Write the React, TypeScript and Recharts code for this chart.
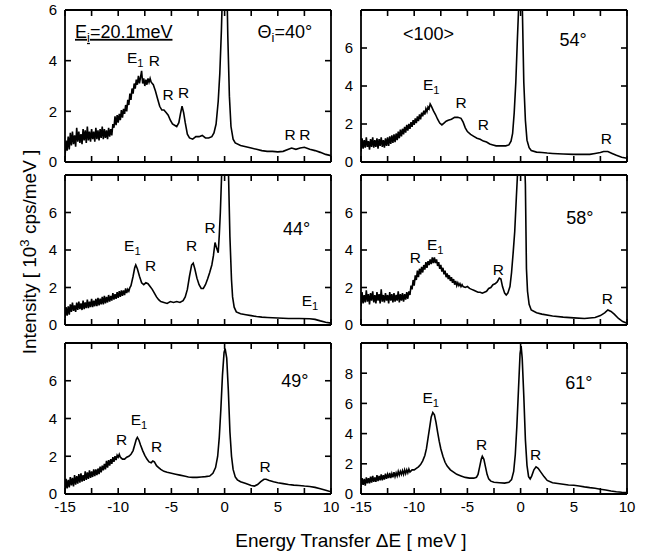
import React from 'react';
import { LineChart, Line, XAxis, YAxis, ReferenceDot } from 'recharts';

type Pt = [number, number];

const FONT = "'Liberation Sans', Arial, Helvetica, sans-serif";

// Energy transfer (meV) vs intensity (10^3 cps/meV)
const spectrum40: Pt[] = [
  [-15, 0.2], [-14.9, 0.85], [-14.8, 0.45], [-14.7, 1.0], [-14.6, 0.5], [-14.5, 1.15], [-14.4, 0.65], [-14.3, 1.2],
  [-14.2, 0.7], [-14.1, 1.05], [-14, 0.6], [-13.9, 1.35], [-13.8, 0.8], [-13.7, 1.2], [-13.6, 0.75], [-13.5, 1.1],
  [-13.4, 0.7], [-13.3, 1.3], [-13.2, 0.85], [-13.1, 1.25], [-13, 0.75], [-12.9, 1.4], [-12.8, 0.85], [-12.7, 1.2],
  [-12.6, 0.8], [-12.5, 1.3], [-12.4, 0.9], [-12.3, 1.2], [-12.2, 0.8], [-12.1, 1.35], [-12, 0.9], [-11.9, 1.25],
  [-11.8, 0.85], [-11.7, 1.3], [-11.6, 0.95], [-11.5, 1.4], [-11.4, 0.9], [-11.3, 1.3], [-11.2, 0.95], [-11.1, 1.25],
  [-11, 0.9], [-10.9, 1.35], [-10.8, 1.0], [-10.7, 1.3], [-10.6, 1.05], [-10.5, 1.5], [-10.4, 1.35], [-10.3, 1.8],
  [-10.2, 1.45], [-10.1, 1.85], [-10, 1.55], [-9.9, 1.9], [-9.8, 1.65], [-9.7, 2.05], [-9.6, 1.75], [-9.5, 2.1],
  [-9.4, 1.9], [-9.3, 2.25], [-9.2, 2.0], [-9.1, 2.45], [-9, 2.25], [-8.9, 2.7], [-8.8, 2.45], [-8.7, 2.9],
  [-8.6, 2.7], [-8.5, 3.1], [-8.4, 2.9], [-8.3, 3.25], [-8.2, 3.05], [-8.1, 3.4], [-8, 3.1], [-7.9, 3.35],
  [-7.8, 3.6], [-7.7, 3.1], [-7.6, 3.3], [-7.5, 3.0], [-7.4, 3.25], [-7.3, 3.05], [-7.2, 3.3], [-7.1, 3.15],
  [-7, 3.3], [-6.9, 3.15], [-6.7, 3.05], [-6.5, 2.8], [-6.3, 2.5], [-6.1, 2.2], [-5.9, 2.05], [-5.7, 2.05],
  [-5.5, 1.95], [-5.3, 1.85], [-5.1, 1.65], [-4.9, 1.5], [-4.7, 1.45], [-4.5, 1.4], [-4.3, 1.55], [-4.15, 1.9],
  [-4, 2.2], [-3.85, 1.95], [-3.7, 1.55], [-3.5, 1.1], [-3.3, 0.95], [-3, 0.9], [-2.7, 1.0], [-2.4, 1.0],
  [-2.1, 1.05], [-1.8, 0.95], [-1.5, 0.95], [-1.2, 1.0], [-1, 1.15], [-0.8, 1.5], [-0.6, 2.4], [-0.45, 3.5],
  [-0.3, 5.2], [-0.15, 7.5], [0, 9], [0.15, 8.5], [0.3, 5], [0.45, 2.6], [0.6, 1.4], [0.8, 0.9], [1, 0.75],
  [1.5, 0.65], [2, 0.6], [2.5, 0.55], [3, 0.5], [3.5, 0.45], [4, 0.42], [4.5, 0.42], [5, 0.4], [5.5, 0.42],
  [6, 0.5], [6.3, 0.55], [6.7, 0.5], [7.1, 0.55], [7.5, 0.58], [8, 0.5], [8.5, 0.45], [9, 0.38], [9.5, 0.3],
  [10, 0.25],
];

const spectrum54: Pt[] = [
  [-15, 0.55], [-14.9, 1.25], [-14.8, 0.7], [-14.7, 1.15], [-14.6, 0.75], [-14.5, 1.3], [-14.4, 0.8], [-14.3, 1.1],
  [-14.2, 0.65], [-14.1, 1.2], [-14, 0.8], [-13.9, 1.3], [-13.8, 0.75], [-13.7, 1.15], [-13.6, 0.8], [-13.5, 1.25],
  [-13.4, 0.7], [-13.3, 1.2], [-13.2, 0.85], [-13.1, 1.3], [-13, 0.8], [-12.9, 1.15], [-12.8, 0.75], [-12.7, 1.25],
  [-12.6, 0.85], [-12.5, 1.3], [-12.4, 0.85], [-12.3, 1.35], [-12.2, 0.95], [-12.1, 1.4], [-12, 1.0], [-11.9, 1.45],
  [-11.8, 1.05], [-11.7, 1.5], [-11.6, 1.15], [-11.5, 1.6], [-11.4, 1.25], [-11.3, 1.7], [-11.2, 1.35], [-11.1, 1.75],
  [-11, 1.45], [-10.9, 1.85], [-10.8, 1.55], [-10.7, 1.95], [-10.6, 1.65], [-10.5, 2.0], [-10.4, 1.75], [-10.3, 2.1],
  [-10.2, 1.85], [-10.1, 2.2], [-10, 1.95], [-9.9, 2.3], [-9.8, 2.05], [-9.7, 2.4], [-9.6, 2.15], [-9.5, 2.5],
  [-9.4, 2.25], [-9.3, 2.6], [-9.2, 2.4], [-9.1, 2.7], [-9, 2.5], [-8.9, 2.8], [-8.8, 2.65], [-8.7, 2.9],
  [-8.6, 2.8], [-8.5, 3.05], [-8.4, 2.95], [-8.2, 2.7], [-8, 2.5], [-7.8, 2.25], [-7.6, 2.05], [-7.4, 1.95],
  [-7.2, 2.05], [-7, 2.15], [-6.8, 2.2], [-6.5, 2.25], [-6.2, 2.35], [-5.9, 2.35], [-5.6, 2.3], [-5.4, 2.1],
  [-5.2, 1.8], [-5, 1.6], [-4.7, 1.45], [-4.4, 1.35], [-4.1, 1.25], [-3.8, 1.2], [-3.5, 1.1], [-3.2, 1.05],
  [-2.9, 0.95], [-2.6, 0.9], [-2.3, 0.85], [-2, 0.85], [-1.7, 0.85], [-1.4, 0.85], [-1.1, 0.9], [-0.9, 1.1],
  [-0.75, 1.5], [-0.6, 2.6], [-0.45, 4.2], [-0.3, 6.5], [-0.15, 8.6], [0, 9.5], [0.15, 8.5], [0.3, 4.2],
  [0.45, 2.2], [0.6, 1.15], [0.8, 0.75], [1, 0.6], [1.5, 0.52], [2, 0.5], [2.5, 0.47], [3, 0.45], [4, 0.42],
  [5, 0.4], [6, 0.4], [6.5, 0.4], [7, 0.45], [7.5, 0.5], [7.8, 0.55], [8.2, 0.55], [8.6, 0.45], [9, 0.35],
  [9.5, 0.25], [10, 0.2],
];

const spectrum44: Pt[] = [
  [-15, 0.35], [-14.9, 0.95], [-14.8, 0.5], [-14.7, 1.0], [-14.6, 0.55], [-14.5, 1.1], [-14.4, 0.7], [-14.3, 1.2],
  [-14.2, 0.75], [-14.1, 1.05], [-14, 0.7], [-13.9, 1.2], [-13.8, 0.8], [-13.7, 1.25], [-13.6, 0.85], [-13.5, 1.15],
  [-13.4, 0.8], [-13.3, 1.3], [-13.2, 0.85], [-13.1, 1.2], [-13, 0.9], [-12.9, 1.35], [-12.8, 0.9], [-12.7, 1.25],
  [-12.6, 0.95], [-12.5, 1.4], [-12.4, 0.95], [-12.3, 1.3], [-12.2, 1.0], [-12.1, 1.4], [-12, 1.0], [-11.9, 1.45],
  [-11.8, 1.05], [-11.7, 1.4], [-11.6, 1.1], [-11.5, 1.5], [-11.4, 1.1], [-11.3, 1.55], [-11.2, 1.15], [-11.1, 1.5],
  [-11, 1.2], [-10.9, 1.6], [-10.8, 1.25], [-10.7, 1.55], [-10.6, 1.3], [-10.5, 1.7], [-10.4, 1.35], [-10.3, 1.65],
  [-10.2, 1.4], [-10.1, 1.75], [-10, 1.45], [-9.9, 1.8], [-9.8, 1.5], [-9.7, 1.85], [-9.6, 1.55], [-9.5, 1.85],
  [-9.4, 1.6], [-9.3, 1.95], [-9.2, 1.7], [-9.1, 1.9], [-9, 1.8], [-8.9, 2.0], [-8.8, 2.1], [-8.6, 2.6],
  [-8.45, 3.05], [-8.35, 3.2], [-8.2, 3.0], [-8, 2.6], [-7.8, 2.25], [-7.6, 2.15], [-7.4, 2.25], [-7.2, 2.2],
  [-7, 2.05], [-6.8, 1.9], [-6.6, 1.7], [-6.4, 1.5], [-6.2, 1.35], [-6, 1.25], [-5.7, 1.2], [-5.4, 1.15],
  [-5.1, 1.25], [-4.8, 1.2], [-4.5, 1.25], [-4.2, 1.2], [-3.9, 1.3], [-3.7, 1.5], [-3.5, 1.9], [-3.3, 2.6],
  [-3.1, 3.2], [-2.95, 3.3], [-2.8, 3.0], [-2.6, 2.5], [-2.4, 2.15], [-2.2, 1.95], [-2, 1.95], [-1.8, 2.15],
  [-1.6, 2.45], [-1.4, 2.8], [-1.2, 3.2], [-1.05, 3.7], [-0.9, 4.4], [-0.75, 4.1], [-0.6, 3.85], [-0.5, 4.8],
  [-0.4, 6.0], [-0.25, 8.5], [0, 10], [0.2, 10], [0.35, 8.5], [0.5, 4.7], [0.65, 2.4], [0.75, 1.5], [0.9, 0.95],
  [1.1, 0.7], [1.5, 0.6], [2, 0.55], [2.5, 0.5], [3, 0.45], [3.5, 0.42], [4, 0.4], [5, 0.37], [6, 0.35],
  [7, 0.35], [8, 0.33], [8.5, 0.3], [9, 0.22], [9.5, 0.15], [10, 0.1],
];

const spectrum58: Pt[] = [
  [-15, 1.0], [-14.9, 1.75], [-14.8, 1.15], [-14.7, 1.6], [-14.6, 1.2], [-14.5, 1.85], [-14.4, 1.25], [-14.3, 1.65],
  [-14.2, 1.1], [-14.1, 1.7], [-14, 1.3], [-13.9, 1.8], [-13.8, 1.2], [-13.7, 1.6], [-13.6, 1.15], [-13.5, 1.75],
  [-13.4, 1.3], [-13.3, 1.65], [-13.2, 1.15], [-13.1, 1.9], [-13, 1.25], [-12.9, 1.6], [-12.8, 1.2], [-12.7, 1.7],
  [-12.6, 1.3], [-12.5, 1.6], [-12.4, 1.15], [-12.3, 1.75], [-12.2, 1.3], [-12.1, 1.65], [-12, 1.2], [-11.9, 1.7],
  [-11.8, 1.25], [-11.7, 1.6], [-11.6, 1.3], [-11.5, 1.8], [-11.4, 1.2], [-11.3, 1.65], [-11.2, 1.3], [-11.1, 1.7],
  [-11, 1.25], [-10.9, 1.65], [-10.8, 1.35], [-10.7, 1.75], [-10.6, 1.4], [-10.5, 1.8], [-10.4, 1.6], [-10.3, 2.1],
  [-10.2, 1.9], [-10.1, 2.4], [-10, 2.1], [-9.9, 2.65], [-9.8, 2.4], [-9.7, 2.9], [-9.6, 2.55], [-9.5, 3.0],
  [-9.4, 2.7], [-9.3, 3.1], [-9.2, 2.8], [-9.1, 3.2], [-9, 2.95], [-8.9, 3.35], [-8.8, 3.05], [-8.7, 3.4],
  [-8.6, 3.2], [-8.5, 3.5], [-8.4, 3.25], [-8.3, 3.6], [-8.2, 3.3], [-8.1, 3.6], [-8, 3.3], [-7.9, 3.5],
  [-7.8, 3.15], [-7.7, 3.35], [-7.6, 3.0], [-7.5, 3.2], [-7.4, 2.85], [-7.3, 3.05], [-7.2, 2.7], [-7.1, 2.9],
  [-7, 2.55], [-6.9, 2.75], [-6.8, 2.45], [-6.7, 2.65], [-6.6, 2.35], [-6.5, 2.55], [-6.4, 2.25], [-6.3, 2.45],
  [-6.2, 2.15], [-6.1, 2.35], [-6, 2.1], [-5.9, 2.25], [-5.8, 2.1], [-5.7, 2.2], [-5.6, 2.05], [-5.5, 2.15],
  [-5.4, 2.05], [-5.2, 2.0], [-5, 2.05], [-4.8, 1.95], [-4.6, 1.9], [-4.4, 1.85], [-4.2, 1.8], [-4, 1.75],
  [-3.8, 1.75], [-3.6, 1.7], [-3.4, 1.75], [-3.2, 1.8], [-3, 1.95], [-2.8, 2.0], [-2.6, 2.15], [-2.4, 2.2],
  [-2.2, 2.3], [-2, 2.5], [-1.85, 2.45], [-1.7, 2.05], [-1.5, 1.7], [-1.35, 1.6], [-1.2, 1.7], [-1, 2.05],
  [-0.85, 2.8], [-0.7, 3.85], [-0.55, 5.0], [-0.4, 6.8], [-0.25, 8.5], [0, 10], [0.3, 10], [0.45, 7.5],
  [0.55, 3.0], [0.65, 1.8], [0.8, 1.1], [1, 0.8], [1.5, 0.65], [2, 0.58], [3, 0.48], [4, 0.42], [5, 0.38],
  [6, 0.35], [7, 0.4], [7.5, 0.5], [7.9, 0.65], [8.2, 0.8], [8.5, 0.72], [8.8, 0.58], [9.2, 0.35], [9.6, 0.18],
  [10, 0.1],
];

const spectrum49: Pt[] = [
  [-15, 0.15], [-14.9, 0.8], [-14.8, 0.3], [-14.7, 0.75], [-14.6, 0.35], [-14.5, 0.9], [-14.4, 0.45], [-14.3, 0.85],
  [-14.2, 0.4], [-14.1, 1.0], [-14, 0.5], [-13.9, 0.95], [-13.8, 0.55], [-13.7, 1.05], [-13.6, 0.6], [-13.5, 1.1],
  [-13.4, 0.65], [-13.3, 1.0], [-13.2, 0.7], [-13.1, 1.2], [-13, 0.75], [-12.9, 1.15], [-12.8, 0.8], [-12.7, 1.25],
  [-12.6, 0.85], [-12.5, 1.2], [-12.4, 0.9], [-12.3, 1.3], [-12.2, 0.95], [-12.1, 1.3], [-12, 1.0], [-11.9, 1.35],
  [-11.8, 1.05], [-11.7, 1.45], [-11.6, 1.15], [-11.5, 1.5], [-11.4, 1.25], [-11.3, 1.6], [-11.2, 1.3], [-11.1, 1.75],
  [-11, 1.4], [-10.9, 1.8], [-10.8, 1.5], [-10.7, 1.85], [-10.6, 1.6], [-10.5, 1.95], [-10.4, 1.7], [-10.3, 2.0],
  [-10.2, 1.8], [-10.1, 2.05], [-10, 1.95], [-9.9, 2.1], [-9.8, 1.95], [-9.6, 1.85], [-9.4, 1.85], [-9.2, 1.95],
  [-9, 2.0], [-8.8, 2.1], [-8.6, 2.3], [-8.45, 2.6], [-8.3, 2.9], [-8.2, 3.0], [-8.05, 2.85], [-7.9, 2.6],
  [-7.7, 2.3], [-7.5, 2.05], [-7.3, 1.85], [-7.1, 1.7], [-6.9, 1.65], [-6.75, 1.75], [-6.6, 1.7], [-6.4, 1.5],
  [-6.2, 1.4], [-6, 1.3], [-5.7, 1.2], [-5.4, 1.15], [-5, 1.1], [-4.6, 1.05], [-4.2, 1.0], [-3.8, 0.95],
  [-3.4, 0.9], [-3, 0.88], [-2.6, 0.88], [-2.2, 0.9], [-1.8, 0.92], [-1.4, 0.95], [-1.1, 1.1], [-0.85, 1.4],
  [-0.65, 2.0], [-0.5, 3.0], [-0.35, 4.5], [-0.2, 6.3], [-0.05, 7.5], [0.05, 7.7], [0.2, 7.2], [0.35, 5.5],
  [0.5, 3.3], [0.65, 2.0], [0.8, 1.3], [1, 0.9], [1.2, 0.75], [1.5, 0.65], [2, 0.55], [2.5, 0.45], [2.8, 0.42],
  [3.1, 0.5], [3.4, 0.65], [3.7, 0.78], [3.9, 0.78], [4.2, 0.72], [4.6, 0.65], [5, 0.6], [5.5, 0.55], [6, 0.5],
  [6.5, 0.47], [7, 0.45], [7.5, 0.42], [8, 0.4], [8.5, 0.35], [9, 0.28], [9.5, 0.2], [10, 0.12],
];

const spectrum61: Pt[] = [
  [-15, 0.45], [-14.9, 1.05], [-14.8, 0.6], [-14.7, 1.0], [-14.6, 0.55], [-14.5, 1.1], [-14.4, 0.7], [-14.3, 1.05],
  [-14.2, 0.7], [-14.1, 1.15], [-14, 0.75], [-13.9, 1.2], [-13.8, 0.8], [-13.7, 1.1], [-13.6, 0.8], [-13.5, 1.25],
  [-13.4, 0.85], [-13.3, 1.2], [-13.2, 0.9], [-13.1, 1.3], [-13, 0.9], [-12.9, 1.25], [-12.8, 0.95], [-12.7, 1.35],
  [-12.6, 1.0], [-12.5, 1.3], [-12.4, 1.05], [-12.3, 1.4], [-12.2, 1.05], [-12.1, 1.35], [-12, 1.1], [-11.9, 1.45],
  [-11.8, 1.15], [-11.7, 1.4], [-11.6, 1.2], [-11.5, 1.5], [-11.4, 1.25], [-11.3, 1.5], [-11.2, 1.3], [-11.1, 1.55],
  [-11, 1.3], [-10.9, 1.6], [-10.8, 1.35], [-10.7, 1.6], [-10.6, 1.4], [-10.5, 1.65], [-10.4, 1.45], [-10.2, 1.6],
  [-10, 1.6], [-9.8, 1.7], [-9.6, 1.8], [-9.4, 1.95], [-9.2, 2.2], [-9, 2.55], [-8.85, 3.0], [-8.7, 3.7],
  [-8.55, 4.4], [-8.4, 5.1], [-8.25, 5.4], [-8.1, 5.25], [-7.95, 4.75], [-7.8, 4.1], [-7.65, 3.5], [-7.5, 3.0],
  [-7.3, 2.5], [-7.1, 2.1], [-6.9, 1.85], [-6.6, 1.6], [-6.3, 1.45], [-6, 1.3], [-5.6, 1.2], [-5.2, 1.1],
  [-4.8, 1.05], [-4.4, 1.05], [-4.15, 1.1], [-4, 1.3], [-3.85, 1.8], [-3.7, 2.3], [-3.6, 2.5], [-3.45, 2.3],
  [-3.3, 1.8], [-3.15, 1.3], [-3, 1.0], [-2.8, 0.85], [-2.5, 0.78], [-2, 0.75], [-1.5, 0.72], [-1.1, 0.78],
  [-0.85, 0.95], [-0.65, 1.5], [-0.5, 2.6], [-0.35, 4.5], [-0.2, 6.9], [-0.05, 9.3], [0.05, 9.8], [0.15, 9.0],
  [0.3, 6.5], [0.45, 3.6], [0.6, 1.9], [0.75, 1.15], [0.9, 1.0], [1.05, 1.2], [1.25, 1.6], [1.45, 1.8],
  [1.65, 1.7], [1.9, 1.45], [2.2, 1.15], [2.5, 0.9], [3, 0.75], [3.5, 0.7], [4, 0.65], [4.5, 0.6], [5, 0.58],
  [5.5, 0.53], [6, 0.47], [6.5, 0.42], [7, 0.38], [7.5, 0.32], [8, 0.27], [8.5, 0.2], [9, 0.15], [9.5, 0.12],
  [10, 0.1],
];

// Tick values
const xTickLines = [-15, -12.5, -10, -7.5, -5, -2.5, 0, 2.5, 5, 7.5, 10];
const xTickLabels = [-15, -10, -5, 0, 5, 10];
const yLabels6 = [0, 2, 4, 6];
const yLabels8 = [0, 2, 4, 6];
const yLabels10 = [0, 2, 4, 6, 8];
const yLines6 = [0, 2, 4, 6];
const yLines8 = [0, 2, 4, 6, 8];
const yLines10 = [0, 2, 4, 6, 8, 10];

interface Note {
  x: number;
  y: number;
  text: string;
  sub?: string;
  tail?: string;
  anchor?: 'start' | 'middle';
  big?: boolean;
  underline?: boolean;
}

// Peak labels (energy, intensity at text baseline)
const notes40: Note[] = [
  { x: -14.06, y: 4.9, text: 'E', sub: 'i', tail: '=20.1meV', anchor: 'start', big: true, underline: true },
  { x: 5.67, y: 4.9, text: 'Θ', sub: 'i', tail: '=40°', big: true },
  { x: -8.4, y: 3.9, text: 'E', sub: '1' },
  { x: -6.6, y: 3.77, text: 'R' },
  { x: -5.3, y: 2.45, text: 'R' },
  { x: -3.85, y: 2.52, text: 'R' },
  { x: 6.15, y: 0.88, text: 'R' },
  { x: 7.55, y: 0.88, text: 'R' },
];
const notes54: Note[] = [
  { x: -8.66, y: 6.44, text: '<100>', big: true },
  { x: 4.94, y: 6.09, text: '54°', big: true },
  { x: -8.4, y: 3.8, text: 'E', sub: '1' },
  { x: -5.6, y: 2.84, text: 'R' },
  { x: -3.5, y: 1.67, text: 'R' },
  { x: 8.06, y: 0.96, text: 'R' },
];
const notes44: Note[] = [
  { x: -8.67, y: 3.93, text: 'E', sub: '1' },
  { x: -6.95, y: 2.87, text: 'R' },
  { x: -3.1, y: 3.93, text: 'R' },
  { x: -1.37, y: 4.9, text: 'R' },
  { x: 6.77, y: 4.81, text: '44°', big: true },
  { x: 8.03, y: 1.0, text: 'E', sub: '1' },
];
const notes58: Note[] = [
  { x: -9.9, y: 3.3, text: 'R' },
  { x: -8.03, y: 4.0, text: 'E', sub: '1' },
  { x: -2.09, y: 2.69, text: 'R' },
  { x: 5.56, y: 5.4, text: '58°', big: true },
  { x: 8.16, y: 1.1, text: 'R' },
];
const notes49: Note[] = [
  { x: -9.67, y: 2.58, text: 'R' },
  { x: -8.05, y: 3.65, text: 'E', sub: '1' },
  { x: -6.39, y: 2.23, text: 'R' },
  { x: 3.8, y: 1.17, text: 'R' },
  { x: 6.6, y: 5.65, text: '49°', big: true },
];
const notes61: Note[] = [
  { x: -8.44, y: 6.05, text: 'E', sub: '1' },
  { x: -3.66, y: 2.92, text: 'R' },
  { x: 1.4, y: 2.28, text: 'R' },
  { x: 5.47, y: 6.93, text: '61°', big: true },
];

const AXIS_LINE = { stroke: '#000', strokeWidth: 1.8 };
const TICK_LINE = { stroke: '#000', strokeWidth: 1.6 };
const TICK_TEXT = { fontSize: 15, fill: '#000', fontFamily: FONT };
const NoTick = () => <g />;

function renderNote(n: Note) {
  const size = n.big ? 18 : 15.5;
  return (p: any) => (
    <text
      x={p.cx}
      y={p.cy}
      textAnchor={n.anchor ?? 'middle'}
      fontSize={size}
      fontFamily={FONT}
      fill="#000"
      textDecoration={n.underline ? 'underline' : undefined}
    >
      {n.text}
      {n.sub ? (
        <tspan fontSize={size * 0.72} dy={4}>
          {n.sub}
        </tspan>
      ) : null}
      {n.tail ? (
        <tspan fontSize={size} dy={-4}>
          {n.tail}
        </tspan>
      ) : null}
    </text>
  );
}

interface PanelProps {
  data: Pt[];
  notes: Note[];
  yMax: number;
  yLabels: number[];
  yLines: number[];
  left: number;
  top: number;
  width: number;
  height: number;
  margin: { top: number; right: number; bottom: number; left: number };
  showX: boolean;
}

function Panel({ data, notes, yMax, yLabels, yLines, left, top, width, height, margin, showX }: PanelProps) {
  const rows = data.map(([e, v]) => ({ e, v }));
  return (
    <div style={{ position: 'absolute', left, top }}>
      <LineChart width={width} height={height} data={rows} margin={margin}>
        <XAxis
          xAxisId="b"
          dataKey="e"
          type="number"
          domain={[-15, 10]}
          allowDataOverflow
          orientation="bottom"
          mirror
          height={1}
          ticks={xTickLines}
          interval={0}
          tick={NoTick}
          tickSize={6}
          axisLine={AXIS_LINE}
          tickLine={TICK_LINE}
        />
        <XAxis
          xAxisId="t"
          dataKey="e"
          type="number"
          domain={[-15, 10]}
          allowDataOverflow
          orientation="top"
          mirror
          height={1}
          ticks={xTickLines}
          interval={0}
          tick={NoTick}
          tickSize={6}
          axisLine={AXIS_LINE}
          tickLine={TICK_LINE}
        />
        {showX ? (
          <XAxis
            xAxisId="lab"
            dataKey="e"
            type="number"
            domain={[-15, 10]}
            allowDataOverflow
            orientation="bottom"
            height={30}
            ticks={xTickLabels}
            interval={0}
            tickLine={false}
            axisLine={false}
            tickSize={0}
            tickMargin={7}
            tick={TICK_TEXT}
          />
        ) : null}
        <YAxis
          yAxisId="l"
          type="number"
          domain={[0, yMax]}
          allowDataOverflow
          orientation="left"
          mirror
          width={1}
          ticks={yLines}
          interval={0}
          tick={NoTick}
          tickSize={6}
          axisLine={AXIS_LINE}
          tickLine={TICK_LINE}
        />
        <YAxis
          yAxisId="r"
          type="number"
          domain={[0, yMax]}
          allowDataOverflow
          orientation="right"
          mirror
          width={1}
          ticks={yLines}
          interval={0}
          tick={NoTick}
          tickSize={6}
          axisLine={AXIS_LINE}
          tickLine={TICK_LINE}
        />
        <YAxis
          yAxisId="lab"
          type="number"
          domain={[0, yMax]}
          allowDataOverflow
          orientation="left"
          width={40}
          ticks={yLabels}
          interval={0}
          tickLine={false}
          axisLine={false}
          tickSize={0}
          tickMargin={8}
          tick={TICK_TEXT}
        />
        <Line
          xAxisId="b"
          yAxisId="l"
          dataKey="v"
          type="linear"
          stroke="#000"
          strokeWidth={1.6}
          dot={false}
          activeDot={false}
          isAnimationActive={false}
        />
        {notes.map((n, i) => (
          <ReferenceDot
            key={i}
            xAxisId="b"
            yAxisId="l"
            x={n.x}
            y={n.y}
            r={0}
            ifOverflow="visible"
            shape={renderNote(n)}
          />
        ))}
      </LineChart>
    </div>
  );
}

const LEFT = { left: 0, width: 340, mL: 25, mR: 9 };
const RIGHT = { left: 320, width: 332, mL: 1, mR: 25 };

export default function App() {
  return (
    <div style={{ position: 'absolute', left: 0, top: 0, width: 652, height: 559, background: '#fff' }}>
      <Panel data={spectrum40} notes={notes40} yMax={6} yLabels={yLabels6} yLines={yLines6}
        left={LEFT.left} top={0} width={LEFT.width} height={170}
        margin={{ top: 10, right: LEFT.mR, bottom: 8, left: LEFT.mL }} showX={false} />
      <Panel data={spectrum54} notes={notes54} yMax={8} yLabels={yLabels8} yLines={yLines8}
        left={RIGHT.left} top={0} width={RIGHT.width} height={170}
        margin={{ top: 10, right: RIGHT.mR, bottom: 8, left: RIGHT.mL }} showX={false} />
      <Panel data={spectrum44} notes={notes44} yMax={8} yLabels={yLabels8} yLines={yLines8}
        left={LEFT.left} top={165} width={LEFT.width} height={170}
        margin={{ top: 10, right: LEFT.mR, bottom: 10, left: LEFT.mL }} showX={false} />
      <Panel data={spectrum58} notes={notes58} yMax={8} yLabels={yLabels8} yLines={yLines8}
        left={RIGHT.left} top={165} width={RIGHT.width} height={170}
        margin={{ top: 10, right: RIGHT.mR, bottom: 10, left: RIGHT.mL }} showX={false} />
      <Panel data={spectrum49} notes={notes49} yMax={8} yLabels={yLabels8} yLines={yLines8}
        left={LEFT.left} top={333} width={LEFT.width} height={196}
        margin={{ top: 10, right: LEFT.mR, bottom: 5, left: LEFT.mL }} showX={true} />
      <Panel data={spectrum61} notes={notes61} yMax={10} yLabels={yLabels10} yLines={yLines10}
        left={RIGHT.left} top={333} width={RIGHT.width} height={196}
        margin={{ top: 10, right: RIGHT.mR, bottom: 5, left: RIGHT.mL }} showX={true} />
      <svg width={652} height={559} style={{ position: 'absolute', left: 0, top: 0, pointerEvents: 'none' }}>
        <text x={351} y={547} textAnchor="middle" fontSize={19} fontFamily={FONT} fill="#000">
          Energy Transfer ΔE [ meV ]
        </text>
        <text transform="translate(36,252) rotate(-90)" textAnchor="middle" fontSize={19} fontFamily={FONT} fill="#000">
          Intensity [ 10
          <tspan dy={-7} fontSize={13}>3</tspan>
          <tspan dy={7}> cps/meV ]</tspan>
        </text>
      </svg>
    </div>
  );
}
